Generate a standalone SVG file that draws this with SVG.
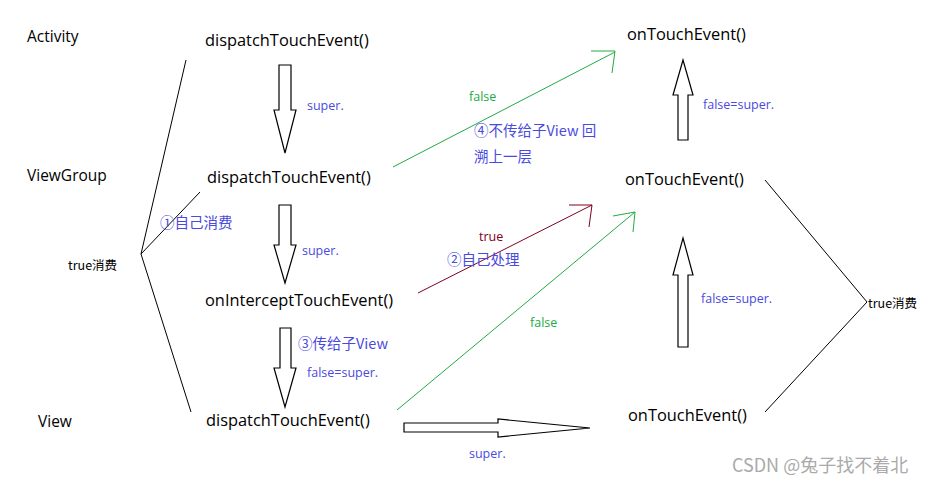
<svg xmlns="http://www.w3.org/2000/svg" width="938" height="484" viewBox="0 0 938 484">
<style>
.t{font-family:"Open Sans","Noto Sans",sans-serif;font-size:16.4px;fill:#000}
.b{font-family:"Open Sans","Noto Sans CJK SC",sans-serif;font-size:12.5px;fill:#4a4ae0}
.c{font-family:"Noto Sans CJK SC",sans-serif;font-size:14.5px;fill:#4a4ae0}
.blk{fill:#fff;stroke:#000;stroke-width:1.2}
.ln{stroke:#000;stroke-width:1;fill:none}
</style>
<rect width="938" height="484" fill="#fff"/>
<g id="labels">
<text class="t" x="27" y="42" style="font-size:15.5px">Activity</text>
<text class="t" x="27" y="181" style="font-size:15.5px">ViewGroup</text>
<text class="t" x="38" y="427" style="font-size:15.5px">View</text>
<text class="t" x="68" y="270" style="font-size:12.5px;font-family:'Noto Sans CJK SC',sans-serif">true消费</text>
<text class="t" x="868" y="308" style="font-size:12.5px;font-family:'Noto Sans CJK SC',sans-serif">true消费</text>
</g>
<g id="n1"><text class="t" x="205" y="46">dispatchTouchEvent()</text></g>
<g id="n2"><text class="t" x="207" y="183">dispatchTouchEvent()</text></g>
<g id="n3"><text class="t" x="205" y="306">onInterceptTouchEvent()</text></g>
<g id="n4"><text class="t" x="206" y="426">dispatchTouchEvent()</text></g>
<g id="n5"><text class="t" x="627" y="40">onTouchEvent()</text></g>
<g id="n6"><text class="t" x="625" y="185">onTouchEvent()</text></g>
<g id="n7"><text class="t" x="628" y="421">onTouchEvent()</text></g>
<g id="connectors">
<path class="blk" d="M279,65 H291 V110 H296 L285,153 L274,110 H279 Z"/>
<path class="blk" d="M279,205 H291 V245 H296 L285,283 L274,245 H279 Z"/>
<path class="blk" d="M280,328 H291 V368 H296 L285,407 L274,368 H280 Z"/>
<path class="blk" d="M678,140 V95 H673 L683,60 L693,95 H688 V140 Z"/>
<path class="blk" d="M678,347 V275 H673 L683,238 L693,275 H688 V347 Z"/>
<path class="blk" d="M404,423 H498 V419 L590,428 L498,437 V432 H404 Z"/>
<path class="ln" d="M186,60 L141,254 L191,412 M141,254 L200,192"/>
<path class="ln" d="M765,180 L867,302 L765,412"/>
<path d="M393,167 L615,52 M591,51 L615,51 L612,73" stroke="#22aa44" fill="none"/>
<path d="M418,293 L592,205 M569,205 L592,205 L589,227" stroke="#800020" fill="none"/>
<path d="M397,410 L635,212 M613,216 L635,212 L633,232" stroke="#22aa44" fill="none"/>
</g>
<g id="annot">
<text class="b" x="307" y="110">super.</text>
<text class="b" x="302" y="255">super.</text>
<text class="b" x="307" y="377">false=super.</text>
<text class="b" x="469" y="458">super.</text>
<text class="b" x="703" y="109">false=super.</text>
<text class="b" x="701" y="303">false=super.</text>
<text class="b" x="469" y="101" style="fill:#22aa44">false</text>
<text class="b" x="530" y="327" style="fill:#22aa44">false</text>
<text class="b" x="479" y="241" style="fill:#800020">true</text>
<text class="c" x="474" y="136">④不传给子View 回</text>
<text class="c" x="474" y="162">溯上一层</text>
<text class="c" x="447" y="265">②自己处理</text>
<text class="c" x="160" y="228">①自己消费</text>
<text class="c" x="298" y="349">③传给子View</text>
<text x="732" y="472" style="font-family:'Noto Sans CJK SC',sans-serif;font-size:18px;fill:#aaa">CSDN @兔子找不着北</text>
</g>
</svg>
